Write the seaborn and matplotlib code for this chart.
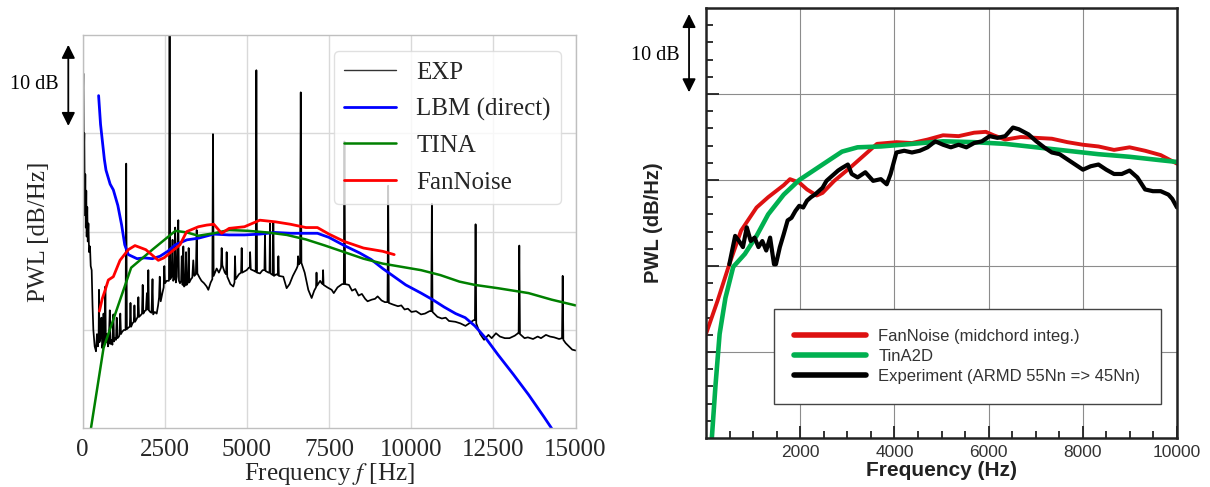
import matplotlib
matplotlib.use("Agg")
import matplotlib.pyplot as plt
import seaborn as sns
import numpy as np

# ---------------- Left panel data (PWL, dB, relative) ----------------
exp_freq = [
    0, 15, 25, 40, 55, 70, 85, 100, 115, 127,
    145, 160, 180, 200, 228, 250, 279, 305, 330, 370,
    411, 440, 470, 490, 502, 515, 545, 575, 600, 625,
    640, 655, 680, 695, 710, 745, 775, 800, 830, 850,
    880, 910, 940, 960, 990, 1020, 1040, 1060, 1090, 1120,
    1150, 1170, 1210, 1260, 1310, 1330, 1350, 1400, 1440, 1460,
    1480, 1520, 1560, 1580, 1600, 1640, 1680, 1700, 1720, 1770,
    1810, 1831, 1850, 1890, 1930, 1960, 1985, 2003, 2020, 2060,
    2100, 2130, 2150, 2200, 2257, 2300, 2330, 2350, 2380, 2430,
    2470, 2490, 2510, 2560, 2630, 2650, 2670, 2710, 2740, 2760,
    2800, 2820, 2840, 2870, 2890, 2915, 2935, 2966, 3000, 3020,
    3045, 3068, 3090, 3130, 3150, 3170, 3210, 3230, 3250, 3300,
    3340, 3370, 3400, 3450, 3474, 3495, 3560, 3620, 3700, 3778,
    3828, 3900, 3950, 3970, 3990, 4030, 4082, 4150, 4215, 4234,
    4255, 4330, 4370, 4386, 4405, 4500, 4588, 4625, 4640, 4660,
    4760, 4825, 4843, 4860, 4994, 5060, 5090, 5100, 5120, 5230,
    5270, 5290, 5310, 5400, 5480, 5535, 5552, 5570, 5660, 5690,
    5704, 5720, 5790, 5806, 5825, 5900, 5945, 5960, 5975, 6110,
    6211, 6300, 6400, 6515, 6545, 6560, 6580, 6620, 6640, 6660,
    6760, 6870, 6972, 7050, 7105, 7120, 7135, 7230, 7277, 7305,
    7320, 7335, 7450, 7581, 7645, 7760, 7900, 7950, 7970, 7990,
    8107, 8200, 8300, 8400, 8500, 8600, 8674, 8800, 8900, 8980,
    9100, 9200, 9280, 9300, 9320, 9450, 9598, 9700, 9800, 9900,
    10009, 10150, 10300, 10420, 10560, 10610, 10630, 10650, 10800, 10934,
    11050, 11150, 11345, 11500, 11652, 11800, 11900, 11940, 11960, 11980,
    12100, 12218, 12350, 12450, 12580, 12700, 12850, 12991, 13150, 13250,
    13270, 13290, 13310, 13450, 13550, 13708, 13850, 13950, 14100, 14223,
    14350, 14500, 14590, 14610, 14630, 14700, 14800, 14900, 15000,
]
exp_pwl = [
    35.8, 40.0, 43.3, 33.0, 36.0, 26.0, 31.0, 24.5, 29.0, 23.4,
    27.0, 22.8, 25.0, 21.5, 22.2, 19.8, 19.3, 15.0, 12.0, 10.0,
    9.4, 11.5, 10.0, 11.0, 16.9, 10.5, 11.0, 13.5, 9.8, 10.5,
    14.0, 10.2, 10.8, 17.3, 10.5, 11.5, 10.0, 10.5, 14.4, 10.3,
    10.8, 10.2, 13.9, 10.6, 11.0, 10.8, 13.5, 11.0, 11.1, 11.3,
    14.0, 11.5, 11.8, 12.0, 12.0, 32.3, 12.1, 12.3, 12.4, 15.3,
    12.4, 12.8, 13.0, 15.0, 13.0, 13.3, 13.6, 16.0, 13.6, 13.8,
    14.0, 17.5, 14.0, 14.3, 14.4, 16.5, 14.5, 19.3, 14.4, 14.2,
    14.1, 18.2, 13.9, 14.2, 14.0, 15.0, 16.0, 18.5, 15.5, 16.5,
    17.2, 19.8, 17.7, 18.0, 18.0, 50.0, 18.2, 18.5, 23.0, 18.0,
    18.3, 24.5, 17.8, 18.5, 22.0, 25.4, 18.0, 17.7, 18.0, 21.0,
    17.5, 22.2, 17.3, 17.5, 21.5, 17.5, 17.8, 22.0, 17.8, 18.2,
    18.4, 20.5, 18.6, 18.8, 24.2, 18.9, 18.4, 18.0, 17.7, 17.3,
    16.9, 17.8, 18.2, 35.9, 18.6, 19.0, 19.5, 19.0, 19.6, 22.0,
    19.9, 19.0, 18.8, 21.5, 18.5, 17.6, 17.3, 17.8, 21.0, 18.2,
    18.8, 19.0, 22.0, 19.0, 19.3, 19.6, 19.6, 21.5, 19.4, 19.2,
    19.1, 43.7, 19.0, 18.9, 19.3, 19.3, 23.8, 19.2, 19.0, 19.0,
    25.0, 18.9, 18.7, 25.2, 18.6, 18.8, 18.7, 21.0, 18.6, 18.5,
    17.1, 17.6, 18.6, 19.5, 19.8, 21.0, 20.0, 20.2, 41.0, 20.2,
    19.0, 16.9, 15.9, 16.8, 17.2, 19.0, 17.4, 18.0, 17.7, 17.6,
    19.3, 17.5, 17.2, 16.9, 16.5, 17.2, 17.6, 17.6, 35.0, 17.6,
    17.5, 16.8, 17.0, 16.2, 16.4, 15.8, 15.5, 15.7, 15.8, 16.1,
    15.6, 15.4, 15.4, 29.6, 15.3, 15.1, 14.9, 15.0, 14.5, 14.6,
    14.2, 14.3, 13.9, 14.0, 14.3, 14.3, 27.4, 14.2, 13.6, 13.4,
    13.5, 13.1, 13.0, 12.8, 12.5, 12.9, 13.2, 13.2, 24.9, 12.8,
    11.5, 10.8, 11.4, 11.0, 11.6, 11.2, 11.0, 11.0, 11.3, 11.6,
    11.6, 22.3, 11.5, 11.0, 11.1, 10.9, 11.2, 11.0, 11.4, 11.2,
    11.1, 10.9, 11.0, 18.6, 10.8, 10.4, 10.0, 9.6, 9.5,
]
assert len(exp_freq) == len(exp_pwl)

lbm_freq = [490, 549, 666, 715, 841, 938, 1075, 1191, 1285, 1394, 1659, 1892,
            2126, 2359, 2593, 2827, 3177, 3527, 3995, 4462, 4929, 5396, 5864,
            6331, 6798, 7148, 7499, 7966, 8433, 8784, 9134, 9484, 9835, 10302,
            10652, 11003, 11353, 11645, 11937, 12288, 12638, 13105, 13572,
            14039, 14273]
lbm_pwl = [40.6, 37.1, 32.8, 31.5, 29.8, 29.1, 27.2, 24.8, 22.4, 21.2, 20.7, 20.8,
           20.7, 21.0, 21.6, 22.4, 23.0, 23.2, 23.7, 23.6, 23.6, 23.7, 23.9,
           23.8, 23.8, 23.8, 23.3, 22.3, 21.4, 20.6, 19.5, 18.5, 17.5, 16.5,
           15.7, 14.8, 14.0, 13.5, 12.5, 10.9, 9.0, 6.6, 4.1,
           1.4, 0.0]

tina_freq = [257, 640, 1480, 2126, 2827, 3177, 3527, 3995, 4462, 5046, 5630,
             6214, 6798, 7382, 7966, 8550, 9134, 9718, 10302, 10886, 11470,
             11937, 12638, 13572, 14273, 15000]
tina_pwl = [0.0, 9.8, 19.6, 21.8, 24.1, 23.9, 23.5, 23.8, 24.2, 24.1, 23.9,
            23.6, 23.05, 22.3, 21.5, 20.7, 20.1, 19.7, 19.3, 18.7, 17.9,
            17.5, 17.1, 16.5, 15.7, 15.0]

fan_freq = [514, 600, 700, 786, 938, 1141, 1394, 1597, 1926, 2307, 2476, 2662,
            2966, 3169, 3527, 3778, 3995, 4234, 4462, 4929, 5396, 5864, 6331,
            6798, 7148, 7499, 7966, 8550, 9134, 9484]
fan_pwl = [14.3, 15.8, 17.0, 18.1, 18.5, 20.5, 21.8, 22.3, 21.8, 20.5, 20.8, 21.4,
           22.4, 24.0, 24.6, 24.8, 24.9, 23.8, 24.4, 24.6, 25.4, 25.2, 24.9,
           24.5, 24.5, 23.7, 22.8, 22.0, 21.6, 21.2]

left_xticks = [0, 2500, 5000, 7500, 10000, 12500, 15000]

# ---------------- Right panel data ----------------
r_fan_freq = [0, 248, 495, 743, 1073, 1320, 1650, 1783, 1980, 2145, 2350, 2475,
              2723, 3053, 3383, 3630, 4043, 4373, 4703, 5033, 5363, 5693, 5941,
              6106, 6353, 6683, 7013, 7343, 7673, 8003, 8333, 8663, 8993, 9323,
              9653, 10000]
r_fan_pwl = [12.1, 16.0, 20.2, 24.1, 26.8, 28.0, 29.4, 30.1, 29.7, 28.9, 28.2, 28.5,
             29.9, 31.4, 33.0, 34.2, 34.4, 34.3, 34.7, 35.2, 35.1, 35.5, 35.6,
             35.2, 34.7, 35.0, 34.9, 34.8, 34.4, 34.1, 33.9, 33.5, 33.8, 33.4,
             32.9, 31.9]

r_tina_freq = [124, 200, 289, 413, 578, 825, 1073, 1320, 1650, 1980, 2310,
               2640, 2888, 3218, 3713, 4373, 5033, 5693, 6353, 7013, 7673,
               8333, 8993, 9653, 10000]
r_tina_pwl = [0.0, 6.0, 12.1, 16.3, 19.9, 21.4, 23.5, 26.0, 28.3, 30.0, 31.2,
              32.4, 33.3, 33.8, 33.9, 34.2, 34.5, 34.4, 34.2, 33.8, 33.4,
              33.0, 32.7, 32.3, 32.1]

r_exp_freq = [495, 619, 701, 784, 866, 949, 1031, 1114, 1196, 1279, 1361, 1444,
              1485, 1568, 1650, 1733, 1815, 1898, 1980, 2063, 2145, 2228, 2310,
              2393, 2475, 2558, 2640, 2723, 2805, 2888, 3012, 3094, 3218, 3383,
              3548, 3713, 3837, 3919, 4043, 4208, 4373, 4538, 4703, 4868, 5033,
              5198, 5363, 5528, 5693, 5858, 6023, 6188, 6353, 6518, 6642, 6848,
              7013, 7178, 7343, 7508, 7673, 7838, 8003, 8168, 8333, 8498, 8663,
              8828, 8993, 9158, 9323, 9488, 9653, 9818, 9900, 10000]
r_exp_pwl = [20.2, 23.5, 22.9, 22.2, 24.5, 22.9, 23.3, 22.2, 22.9, 21.8, 23.3, 20.2,
             20.2, 22.2, 23.7, 25.3, 25.6, 26.4, 27.0, 26.8, 27.6, 28.0, 28.3,
             28.7, 29.1, 29.9, 30.3, 30.7, 31.1, 31.4, 31.8, 30.7, 30.3, 30.9,
             29.9, 30.1, 29.5, 30.7, 33.2, 33.4, 33.2, 33.4, 33.8, 34.5, 34.1,
             33.8, 34.1, 33.8, 34.3, 34.5, 35.1, 34.9, 35.1, 36.1, 35.9, 35.3,
             34.5, 33.8, 33.2, 33.0, 32.4, 31.8, 31.2, 31.6, 31.8, 31.2, 30.7,
             30.7, 31.1, 30.3, 28.9, 28.7, 28.7, 28.3, 27.8, 26.8]

right_xticks = [2000, 4000, 6000, 8000, 10000]

# ---------------- Figure ----------------
sns.set_theme(style="whitegrid")
plt.rcParams['font.family'] = ['Liberation Serif', 'DejaVu Serif']
plt.rcParams['mathtext.fontset'] = 'stix'

fig = plt.figure(figsize=(12.1, 4.87), dpi=100)
axL = fig.add_axes([82.5 / 1210, (487 - 428.3) / 487, 493 / 1210, 393.3 / 487])
axR = fig.add_axes([706 / 1210, (487 - 438) / 487, 471 / 1210, 430 / 487])

# ----- Left -----
sns.lineplot(x=exp_freq, y=exp_pwl, ax=axL, color='black', linewidth=1.25,
             estimator=None, sort=False, label='EXP')
sns.lineplot(x=lbm_freq, y=lbm_pwl, ax=axL, color='#0000ff', linewidth=2.0,
             estimator=None, sort=False, label='LBM (direct)')
sns.lineplot(x=tina_freq, y=tina_pwl, ax=axL, color='#008000', linewidth=1.8,
             estimator=None, sort=False, label='TINA')
sns.lineplot(x=fan_freq, y=fan_pwl, ax=axL, color='#ff0000', linewidth=2.0,
             estimator=None, sort=False, label='FanNoise')

axL.set_xlim(0, 15000)
axL.set_ylim(0, 48)
axL.set_xticks(left_xticks)
axL.set_xticklabels([str(t) for t in left_xticks], fontsize=18)
axL.set_yticks([12, 24, 36])
axL.set_yticklabels([])
axL.tick_params(axis='x', pad=2)
axL.grid(True, color='0.85', linewidth=1.0)
for s in axL.spines.values():
    s.set_color('0.75')
    s.set_linewidth(1.0)
axL.set_xlabel('Frequency $f$ [Hz]', fontsize=18, labelpad=0)
axL.set_ylabel('PWL [dB/Hz]', fontsize=18)
axL.yaxis.set_label_coords(-0.065, 0.5)
leg = axL.legend(loc='upper right', bbox_to_anchor=(0.970, 0.959), borderaxespad=0,
                 fontsize=18, handlelength=2.1, handletextpad=0.8,
                 labelspacing=0.56, borderpad=0.4, frameon=True, fancybox=True,
                 framealpha=0.8, edgecolor='0.85')
leg.get_lines()[0].set_linewidth(1.0)
leg.get_lines()[0].set_color('0.2')
axL.annotate('', xy=(-0.0288, 36.9), xytext=(-0.0288, 46.8),
             xycoords=('axes fraction', 'data'), textcoords=('axes fraction', 'data'),
             arrowprops=dict(arrowstyle='<|-|>', color='black', lw=1.3,
                             mutation_scale=20, shrinkA=0, shrinkB=0),
             annotation_clip=False)
axL.text(-0.098, 42.0, '10 dB', transform=axL.get_yaxis_transform(),
         ha='center', va='center', fontsize=14.5, color='black')

# ----- Right -----
sns.lineplot(x=r_fan_freq, y=r_fan_pwl, ax=axR, color='#dd1111', linewidth=2.8,
             estimator=None, sort=False, label='FanNoise (midchord integ.)')
sns.lineplot(x=r_tina_freq, y=r_tina_pwl, ax=axR, color='#00b050', linewidth=3.3,
             estimator=None, sort=False, label='TinA2D')
sns.lineplot(x=r_exp_freq, y=r_exp_pwl, ax=axR, color='black', linewidth=3.0,
             estimator=None, sort=False, label='Experiment (ARMD 55Nn => 45Nn)')

axR.set_xlim(0, 10000)
axR.set_ylim(0, 50)
axR.set_xticks(right_xticks)
axR.set_xticklabels([str(t) for t in right_xticks], fontsize=12.5,
                    family=['Liberation Sans', 'DejaVu Sans'], color='#333333')
axR.set_xticks(np.arange(500, 10000, 500), minor=True)
axR.set_yticks([10, 20, 30, 40])
axR.set_yticks(np.arange(2, 50, 2), minor=True)
axR.set_yticklabels([])
axR.set_facecolor('white')
axR.grid(True, which='major', color='0.55', linewidth=0.8)
axR.grid(False, which='minor')
for s in axR.spines.values():
    s.set_color('#222222')
    s.set_linewidth(1.8)
axR.tick_params(which='both', direction='in', left=True, bottom=True,
                color='#222222', width=1.3)
axR.tick_params(which='major', length=9, pad=5)
axR.tick_params(which='minor', length=5)
axR.set_xlabel('Frequency (Hz)', fontsize=15, fontweight='bold',
               family=['Liberation Sans', 'DejaVu Sans'], color='#222222', labelpad=1)
axR.set_ylabel('PWL (dB/Hz)', fontsize=14.5, fontweight='bold',
               family=['Liberation Sans', 'DejaVu Sans'], color='#222222')
axR.yaxis.set_label_coords(-0.092, 0.5)
legR = axR.legend(loc='lower right', bbox_to_anchor=(0.965, 0.079), borderaxespad=0,
                  prop={'family': ['Liberation Sans', 'DejaVu Sans'], 'size': 12},
                  handlelength=4.3, handletextpad=0.75, labelspacing=0.3,
                  borderpad=1.2, frameon=True, fancybox=False, framealpha=1.0,
                  edgecolor='#444444')
legR.get_frame().set_linewidth(1.0)
for t in legR.get_texts():
    t.set_color('#333333')
for h in legR.get_lines():
    h.set_linewidth(4.0)
axR.annotate('', xy=(-0.036, 40.2), xytext=(-0.036, 49.3),
             xycoords=('axes fraction', 'data'), textcoords=('axes fraction', 'data'),
             arrowprops=dict(arrowstyle='<|-|>', color='black', lw=1.3,
                             mutation_scale=20, shrinkA=0, shrinkB=0),
             annotation_clip=False)
axR.text(-0.107, 44.5, '10 dB', transform=axR.get_yaxis_transform(),
         ha='center', va='center', fontsize=14.5, color='black',
         family=['Liberation Serif', 'DejaVu Serif'])

fig.savefig('out.png', dpi=100)
